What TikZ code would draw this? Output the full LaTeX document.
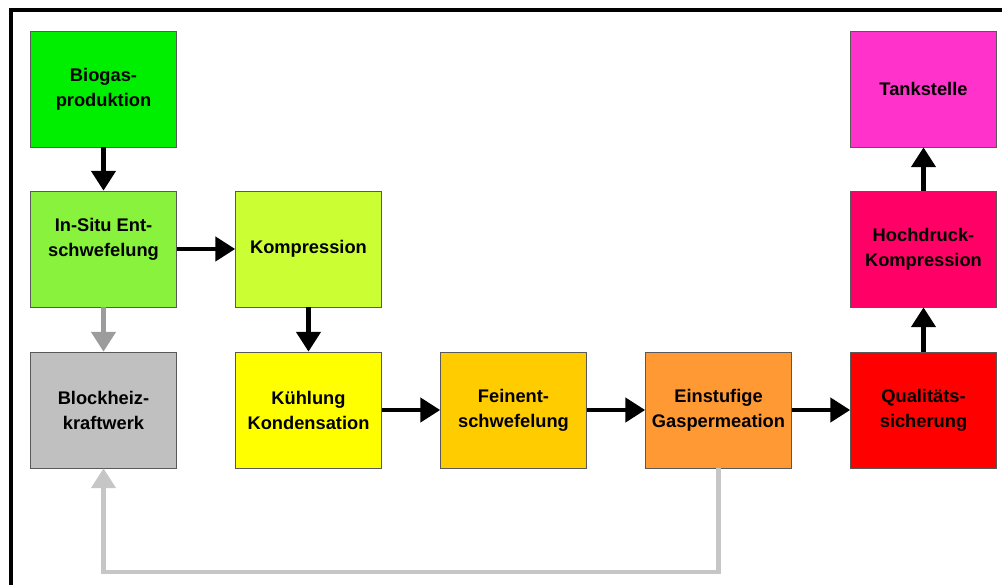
\documentclass[tikz,border=0pt]{standalone}
\usepackage{fontspec}
\setmainfont{Liberation Sans}
\usetikzlibrary{arrows.meta}

\definecolor{cBiogas}{HTML}{00EE00}
\definecolor{cInsitu}{HTML}{88F23C}
\definecolor{cKompr}{HTML}{CCFF33}
\definecolor{cBhkw}{HTML}{C0C0C0}
\definecolor{cKuehl}{HTML}{FFFF00}
\definecolor{cFein}{HTML}{FFCC00}
\definecolor{cPerm}{HTML}{FF9933}
\definecolor{cQuali}{HTML}{FF0000}
\definecolor{cHoch}{HTML}{FF0066}
\definecolor{cTank}{HTML}{FF33CC}
\definecolor{cGrayA}{HTML}{9C9C9C}
\definecolor{cGrayB}{HTML}{C6C6C6}

\tikzset{
  stage/.style={draw=black!65, line width=0.5pt, minimum width=3.65cm, minimum height=2.9cm,
    inner sep=0pt, align=center, font=\fontsize{13}{17.8}\selectfont\bfseries},
  flow/.style={line width=3pt, -{Triangle[width=17pt,length=14pt]}},
}

\begin{document}
\begin{tikzpicture}

  \useasboundingbox[fill=white] (0,0) rectangle (25.05,-14.625);

  % frame
  \draw[line width=2.2pt] (0.275,-14.625) -- (0.275,-0.25) -- (25.05,-0.25);

  % left column
  \node[stage, fill=cBiogas] (biogas) at (2.5875,-2.225) {Biogas-\\produktion};
  \node[stage, fill=cInsitu] (insitu) at (2.5875,-6.225)
    {\raisebox{0.25cm}[\height][\depth]{\begin{tabular}{@{}c@{}}In-Situ Ent-\\schwefelung\end{tabular}}};
  \node[stage, fill=cBhkw] (bhkw) at (2.5875,-10.25) {Blockheiz-\\kraftwerk};

  % gas treatment line
  \node[stage, fill=cKompr] (kompr) at (7.7125,-6.225) {Kompression};
  \node[stage, fill=cKuehl] (kuehl) at (7.7125,-10.25) {Kühlung\\Kondensation};
  \node[stage, fill=cFein] (feinent) at (12.8375,-10.25) {Feinent-\\schwefelung};
  \node[stage, fill=cPerm] (gasperm) at (17.9625,-10.25) {Einstufige\\Gaspermeation};

  % right column
  \node[stage, fill=cQuali] (quali) at (23.0875,-10.25) {Qualitäts-\\sicherung};
  \node[stage, fill=cHoch] (hochdr) at (23.0875,-6.225) {Hochdruck-\\Kompression};
  \node[stage, fill=cTank] (tanke) at (23.0875,-2.225) {Tankstelle};

  % main flow
  \draw[flow] (biogas) -- (insitu);
  \draw[flow] (insitu) -- (kompr);
  \draw[flow] (kompr) -- (kuehl);
  \draw[flow] (kuehl) -- (feinent);
  \draw[flow] (feinent) -- (gasperm);
  \draw[flow] (gasperm) -- (quali);
  \draw[flow] (quali) -- (hochdr);
  \draw[flow] (hochdr) -- (tanke);

  % gas to the CHP unit
  \draw[flow, cGrayA] (insitu) -- (bhkw);
  \draw[flow, cGrayB] (gasperm.south) -- ++(0,-2.6) -| (bhkw.south);

\end{tikzpicture}
\end{document}
